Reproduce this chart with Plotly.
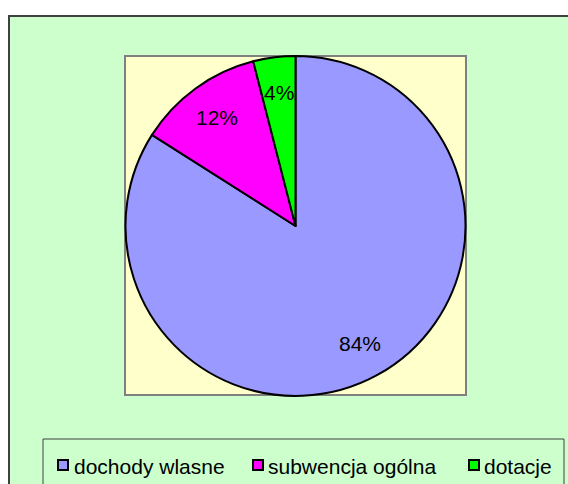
import math
import plotly.graph_objects as go

categories = ["dochody wlasne", "subwencja ogólna", "dotacje"]
values = [84, 12, 4]
colors = ["#9999FF", "#FF00FF", "#00FF00"]

W, H = 568, 484

def px(x):
    return x / W

def py(y):
    return 1 - y / H

# pie geometry (screen pixels of the reference)
CX, CY, R = 295.5, 226, 170
LABEL_FRAC = 0.79

fig = go.Figure()
fig.add_trace(go.Pie(
    labels=categories,
    values=values,
    sort=False,
    direction="clockwise",
    rotation=0,
    marker=dict(colors=colors, line=dict(color="black", width=2)),
    textinfo="none",
    domain=dict(x=[px(CX - R), px(CX + R)], y=[py(CY + R), py(CY - R)]),
    showlegend=False,
    hoverinfo="label+percent",
))

shapes = [
    # chart area
    dict(type="rect", xref="paper", yref="paper", x0=px(9), x1=px(600), y0=py(520), y1=py(16),
         fillcolor="#CCFFCC", line=dict(color="#404040", width=2), layer="below"),
    # plot area
    dict(type="rect", xref="paper", yref="paper", x0=px(125), x1=px(466), y0=py(395), y1=py(56),
         fillcolor="#FFFFCC", line=dict(color="#808080", width=2), layer="below"),
    # legend box
    dict(type="rect", xref="paper", yref="paper", x0=px(43), x1=px(564), y0=py(520), y1=py(439),
         fillcolor="rgba(0,0,0,0)", line=dict(color="#404040", width=1), layer="below"),
]

annotations = []
FONT = "Liberation Sans, Arial"

# percentage labels computed from the data
total = sum(values)
cum = 0
for v in values:
    mid = (cum + v / 2) / total * 2 * math.pi
    cum += v
    lx = CX + LABEL_FRAC * R * math.sin(mid)
    ly = CY - LABEL_FRAC * R * math.cos(mid)
    annotations.append(dict(text=f"{round(100 * v / total)}%", xref="paper", yref="paper",
                            x=px(lx), y=py(ly), xanchor="center", yanchor="middle",
                            showarrow=False, font=dict(family=FONT, size=21, color="black")))

# legend
sq_x = [58, 253, 469]
txt_x = [72, 266, 482]
for c, lab, sx, tx in zip(colors, categories, sq_x, txt_x):
    shapes.append(dict(type="rect", xref="paper", yref="paper", x0=px(sx), x1=px(sx + 10),
                       y0=py(470), y1=py(460), fillcolor=c,
                       line=dict(color="black", width=2), layer="above"))
    annotations.append(dict(text=lab, xref="paper", yref="paper", x=px(tx), y=py(466),
                            xanchor="left", yanchor="middle", showarrow=False,
                            font=dict(family=FONT, size=21, color="black")))

fig.update_layout(
    width=W, height=H,
    margin=dict(l=0, r=0, t=0, b=0),
    paper_bgcolor="white",
    shapes=shapes,
    annotations=annotations,
    showlegend=False,
)

fig.write_html(
    "out.html",
    config={"displayModeBar": False},
    post_script="document.body.style.margin='0';document.body.style.overflow='hidden';",
)
